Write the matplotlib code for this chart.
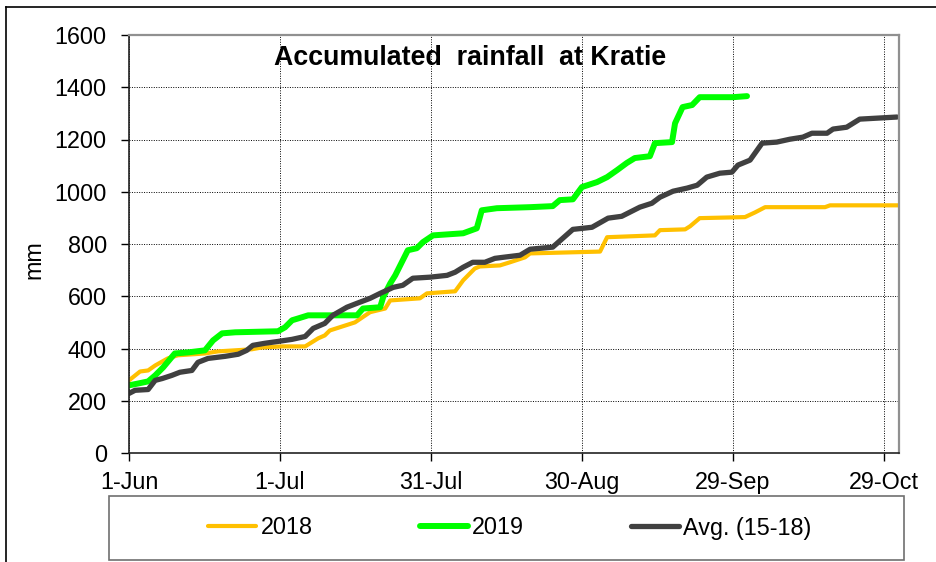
import matplotlib
matplotlib.use("Agg")
import matplotlib.pyplot as plt
from matplotlib.lines import Line2D
from matplotlib.patches import Rectangle

plt.rcParams['font.family'] = ['Liberation Sans', 'DejaVu Sans']

# x axis: days after 1 June
tick_days = [0, 30, 60, 90, 120, 150]
tick_labels = ['1-Jun', '1-Jul', '31-Jul', '30-Aug', '29-Sep', '29-Oct']
y_ticks = [0, 200, 400, 600, 800, 1000, 1200, 1400, 1600]

# 2018 accumulated rainfall (mm)
days_2018 = [0, 2.2, 3.8, 5.2, 7.7, 9.7, 15.1, 17.7, 21.1, 24.4, 26.4, 30.4, 35,
             37.6, 38.9, 39.9, 44.9, 47.9, 50.9, 51.9, 57.8, 59.2, 64.8, 66.4,
             68.7, 69.7, 73.7, 75.7, 78.7, 79.7, 93.6, 95, 104.5, 105.5, 110.5,
             111.5, 113.4, 122.4, 124.4, 126.4, 138.3, 139.3, 153]
rain_2018 = [278, 312, 316, 335, 362, 374, 381, 389, 393, 397, 404, 408, 408,
             439, 450, 469, 500, 539, 553, 584, 592, 611, 619, 661,
             706, 714, 718, 730, 749, 764, 771, 826, 833, 853, 856,
             868, 899, 903, 921, 941, 941, 948, 948]

# 2019 accumulated rainfall (mm)
days_2019 = [0, 1.8, 3.8, 5.2, 6.8, 9.1, 11.7, 15.1, 16.7, 18.5, 21.1, 29.6, 31,
             32.4, 33.6, 35.6, 45.3, 46.5, 49.9, 50.5, 51.9, 52.9, 54.2, 55.4,
             57.2, 58.4, 60.4, 66.4, 69.1, 70.1, 73.1, 79.7, 84.2, 85.6, 88.2,
             90, 93, 95, 97, 98.9, 100.5, 103.5, 104.5, 107.9, 108.5, 110,
             111.9, 113.4, 120, 122.8]
rain_2019 = [259, 266, 274, 297, 328, 381, 385, 393, 431, 458, 462, 466, 481,
             508, 515, 527, 527, 553, 558, 596, 649, 680, 730, 776,
             784, 807, 833, 841, 860, 929, 937, 941, 945, 968, 971,
             1018, 1037, 1056, 1083, 1110, 1129, 1136, 1186, 1190, 1262, 1324,
             1332, 1362, 1362, 1366]

# Average 2015-2018 accumulated rainfall (mm)
days_avg = [0, 1.2, 3.8, 5.2, 6.6, 8.5, 10.1, 12.5, 13.7, 15.7, 19.1, 21.7, 23.4,
            24.6, 27, 29.6, 32.4, 35, 36.6, 38.9, 40.5, 43.3, 45.3, 47.9, 49.9,
            52.5, 54.4, 56.4, 59.8, 63.2, 64.8, 66.4, 68.3, 70.7, 72.7, 74.3,
            77.7, 79.7, 84.2, 86.2, 88.2, 92, 95.2, 97.9, 101.5, 103.9, 105.5,
            108.1, 110.9, 112.9, 114.8, 117.4, 119.8, 121, 123.4, 125.8, 128.7,
            131.3, 133.9, 135.7, 138.7, 139.9, 142.6, 145.2, 152.6]
rain_avg = [228, 240, 243, 278, 285, 297, 309, 316, 347, 362, 370, 378, 393,
            412, 420, 427, 435, 446, 477, 496, 527, 558, 573, 592, 611,
            634, 642, 669, 673, 680, 692, 711, 730, 730, 745, 749,
            757, 780, 788, 822, 856, 864, 899, 906, 941, 956, 979,
            1002, 1014, 1025, 1056, 1071, 1075, 1102, 1121, 1186, 1190,
            1201, 1209, 1224, 1224, 1240, 1247, 1278, 1286]

fs = 16.8

fig = plt.figure(figsize=(9.36, 5.62), dpi=100)
ax = fig.add_axes([129/936, 109/562, 770/936, 418/562])

ax.plot(days_2018, rain_2018, color='#FFC000', lw=3.0, label='2018',
        solid_capstyle='round', solid_joinstyle='round')
ax.plot(days_2019, rain_2019, color='#00FF00', lw=4.3, label='2019',
        solid_capstyle='round', solid_joinstyle='round')
ax.plot(days_avg, rain_avg, color='#404040', lw=3.8, label='Avg. (15-18)',
        solid_capstyle='round', solid_joinstyle='round')

ax.set_xlim(0, 153)
ax.set_ylim(0, 1600)
ax.set_xticks(tick_days)
ax.set_xticklabels(tick_labels)
ax.set_yticks(y_ticks)
ax.tick_params(axis='both', labelsize=fs, length=6, width=1, direction='out')
ax.tick_params(axis='y', pad=10)
ax.tick_params(axis='x', pad=7)
ax.grid(True, color='black', lw=0.7, linestyle=(0, (1, 1.5)))
ax.set_axisbelow(True)

for side in ['top', 'right']:
    ax.spines[side].set_color('#909090')
    ax.spines[side].set_linewidth(1.6)
for side in ['left', 'bottom']:
    ax.spines[side].set_color('#222222')
    ax.spines[side].set_linewidth(1.2)

ax.text(0.443, 0.945, 'Accumulated  rainfall  at Kratie', transform=ax.transAxes,
        ha='center', va='center', fontsize=19.3, fontweight='bold')
fig.text(34/936, 1 - 260/562, 'mm', rotation=90, ha='center', va='center', fontsize=fs)

# legend box and outer chart border
fig.add_artist(Rectangle((109/936, 2/562), 795/936, 64/562, transform=fig.transFigure,
                         fill=False, edgecolor='#707070', lw=1.2))
fig.add_artist(Line2D([6/936, 1], [1 - 7/562, 1 - 7/562], transform=fig.transFigure,
                      color='black', lw=1.2))
fig.add_artist(Line2D([6/936, 6/936], [0, 1 - 7/562], transform=fig.transFigure,
                      color='black', lw=1.2))

handles, labels = ax.get_legend_handles_labels()
fig.legend(handles, labels, loc='center', bbox_to_anchor=(510/936, 1 - 528/562),
           ncol=3, frameon=False, fontsize=fs, handlelength=2.06,
           handletextpad=0.17, columnspacing=4.6)

fig.savefig('out.png', dpi=100)
